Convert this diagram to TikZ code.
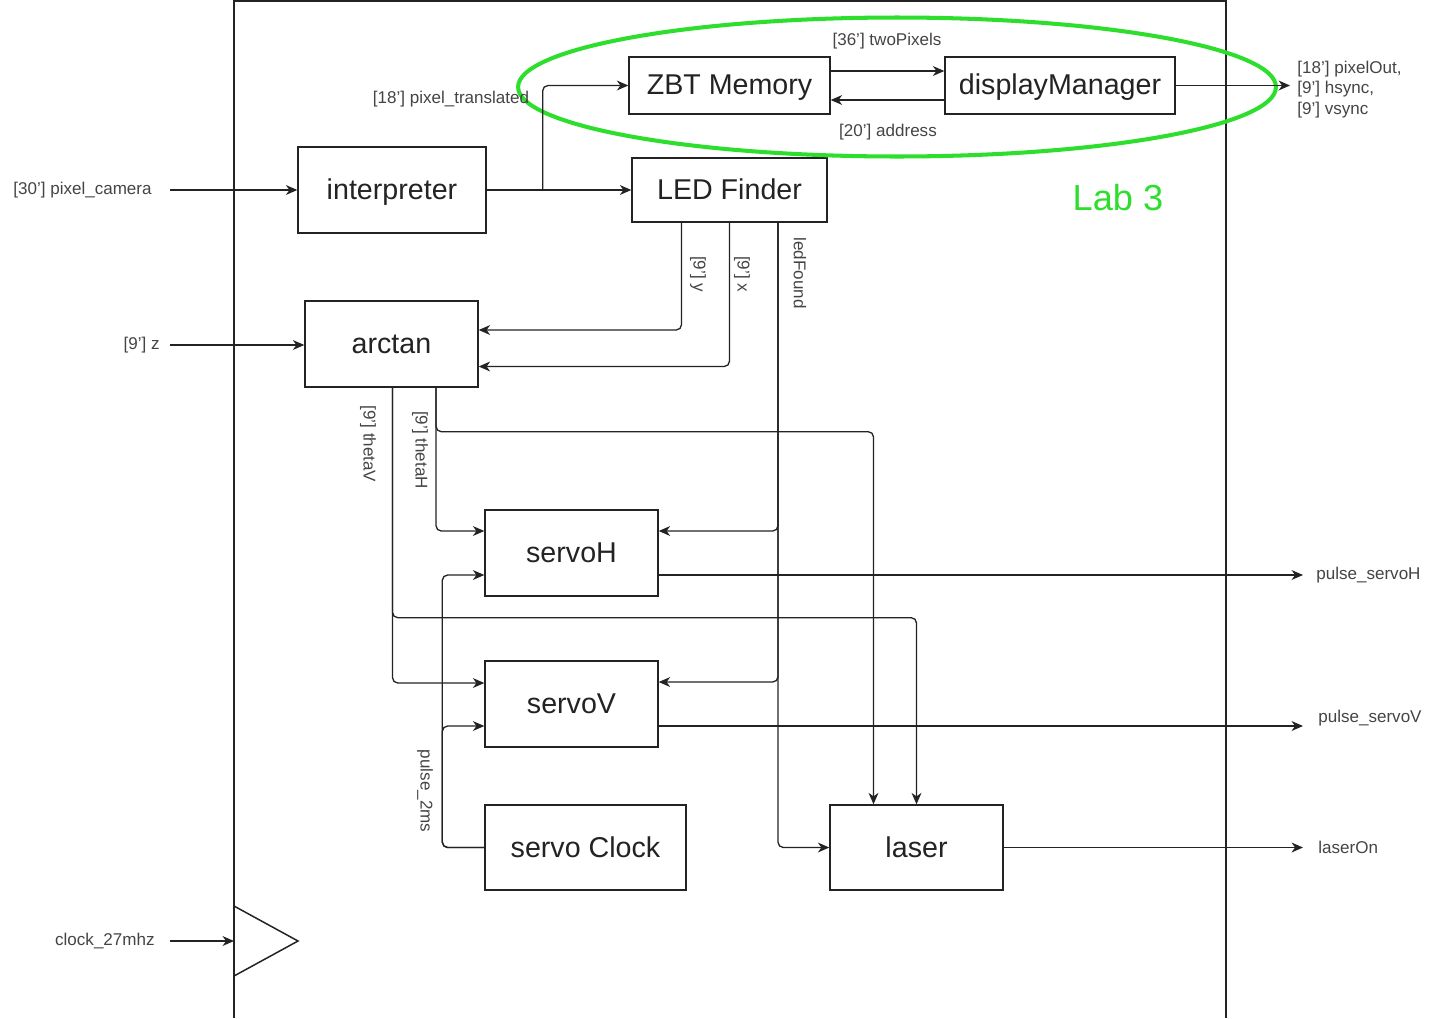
\documentclass[tikz,border=0pt]{standalone}
\usepackage{fontspec}
\setmainfont{Liberation Sans}
\usetikzlibrary{arrows.meta,positioning,calc,shapes.geometric}
\definecolor{labgreen}{RGB}{45,222,45}
\definecolor{ink}{RGB}{35,35,35}

\begin{document}
\begin{tikzpicture}[
  x=0.02cm, y=-0.02cm, >={Stealth[length=6.5pt,width=5.6pt,inset=2pt]},
  box/.style={draw=ink, line width=0.8pt, inner sep=0pt, text=ink,
              text height=12.2pt, text depth=1.4pt,
              font=\fontsize{16.3}{19}\selectfont},
  lbl/.style={inner sep=0pt, text=ink!85, font=\fontsize{9.7}{11.6}\selectfont},
  sig/.style={->, draw=ink, line width=0.75pt, rounded corners=3pt},
  frame/.style={draw=ink, line width=0.85pt}
]
\useasboundingbox (0,0) rectangle (1429,1018);

% module outline and clock input
\draw[frame] (234,1018) -- (234,1) -- (1226,1) -- (1226,1018);
\coordinate (clkBase) at (234,941);
\draw[frame] (clkBase) ++(0,-35) -- ++(64,35) -- ++(-64,35);

% blocks
\node[box, minimum width=3.76cm, minimum height=1.72cm] (interp) at (392,190) {interpreter};
\node[box, minimum width=3.9cm, minimum height=1.28cm] (led) at (729.5,190) {LED Finder};
\node[box, minimum width=4.02cm, minimum height=1.14cm] (zbt) at (729.5,85.5) {ZBT Memory};
\node[box, minimum width=4.6cm, minimum height=1.14cm] (disp) at (1060,85.5) {displayManager};
\node[box, minimum width=3.46cm, minimum height=1.72cm] (arctan) at (391.5,344) {arctan};
\node[box, minimum width=3.46cm, minimum height=1.72cm] (servoH) at (571.5,553) {servoH};
\node[box, minimum width=3.46cm, minimum height=1.72cm] (servoV) at (571.5,704) {servoV};
\node[box, minimum width=4.02cm, minimum height=1.7cm] (sclk) at (585.5,847.5) {servo Clock};
\node[box, minimum width=3.46cm, minimum height=1.7cm] (laser) at (916.5,847.5) {laser};

% Lab 3 part
\node[draw=labgreen, ellipse, line width=2.3pt, inner sep=0pt,
      minimum width=15.16cm, minimum height=2.78cm] (ring) at (897,87) {};
\node[text=labgreen, inner sep=0pt, font=\fontsize{20.6}{24}\selectfont] (lab3) at (1118,198) {Lab 3};

% free ends
\coordinate (camIn) at (170,190);
\coordinate (zIn) at (170,345);
\coordinate (clkIn) at (170,941);
\coordinate (dmOut) at (1290,85.5);
\coordinate (outH) at (1303,575);
\coordinate (outV) at (1303,726);
\coordinate (outL) at (1303,847.5);

\node[lbl, left=0.36cm of camIn] (camLbl) {[30'] pixel\_camera};
\node[lbl, left=0.2cm of zIn] (zLbl) {[9'] z};
\node[lbl, left=0.3cm of clkIn] (clkLbl) {clock\_27mhz};
\node[lbl, right=0.14cm of dmOut, yshift=-0.08cm, align=left] (dmLbl)
  {[18'] pixelOut,\\{}[9'] hsync,\\{}[9'] vsync};
\node[lbl, right=0.26cm of outH] (hLbl) {pulse\_servoH};
\node[lbl, right=0.3cm of outV, yshift=0.15cm] (vLbl) {pulse\_servoV};
\node[lbl, right=0.3cm of outL] (lLbl) {laserOn};

% inputs
\draw[sig] (camIn) -- (interp.west);
\draw[sig] (zIn) -- (arctan.west |- zIn);
\draw[sig] (clkIn) -- (clkBase);

% pixel path
\draw[sig] (interp.east) -- (led.west);
\draw[sig] ($(interp.east)+(56,0)$) |- (zbt.west);
\node[lbl] (ptLbl) at (451,99) {[18'] pixel\_translated};
\draw[sig] ($(zbt.east)+(0,-14.5)$) -- ($(disp.west)+(0,-14.5)$);
\draw[sig] ($(disp.west)+(0,14.5)$) -- ($(zbt.east)+(0,14.5)$);
\node[lbl] (tpLbl) at (887,41) {[36'] twoPixels};
\node[lbl] (adLbl) at (888,132) {[20'] address};
\draw[sig] (disp.east) -- (dmOut);

% LED Finder outputs
\draw[sig] ($(led.south)+(-48,0)$) |- ($(arctan.east)+(0,-14)$);
\draw[sig] (led.south) |- ($(arctan.east)+(0,22.5)$);
\draw[sig] ($(led.south)+(48.5,0)$) |- ($(servoH.east)+(0,-22)$);
\draw[sig] ($(led.south)+(48.5,0)$) |- ($(servoV.east)+(0,-22)$);
\draw[sig] ($(led.south)+(48.5,0)$) |- (laser.west);
\node[lbl, rotate=-90] (yLbl) at (698,274) {[9'] y};
\node[lbl, rotate=-90] (xLbl) at (742,274) {[9'] x};
\node[lbl, rotate=-90] (lfLbl) at (800,273) {ledFound};

% angles
\draw[sig] ($(arctan.south)+(1,0)$) |- ($(servoV.west)+(0,-21)$);
\draw[sig] ($(arctan.south)+(1,0)$) -- ++(0,230) -| (laser.north);
\draw[sig] ($(arctan.south)+(44.5,0)$) |- ($(servoH.west)+(0,-22)$);
\draw[sig] ($(arctan.south)+(44.5,0)$) -- ++(0,44) -| ($(laser.north)+(-43,0)$);
\node[lbl, rotate=-90] (tvLbl) at (368,444) {[9'] thetaV};
\node[lbl, rotate=-90] (thLbl) at (420,450) {[9'] thetaH};

% servo clock
\draw[sig] (sclk.west) -- ++(-42,0) |- ($(servoH.west)+(0,22)$);
\draw[sig] (sclk.west) -- ++(-42,0) |- ($(servoV.west)+(0,22)$);
\node[lbl, rotate=-90] (p2Lbl) at (425,791) {pulse\_2ms};

% outputs
\draw[sig] ($(servoH.east)+(0,22)$) -- (outH);
\draw[sig] ($(servoV.east)+(0,22)$) -- (outV);
\draw[sig] (laser.east) -- (outL);
\end{tikzpicture}
\end{document}
